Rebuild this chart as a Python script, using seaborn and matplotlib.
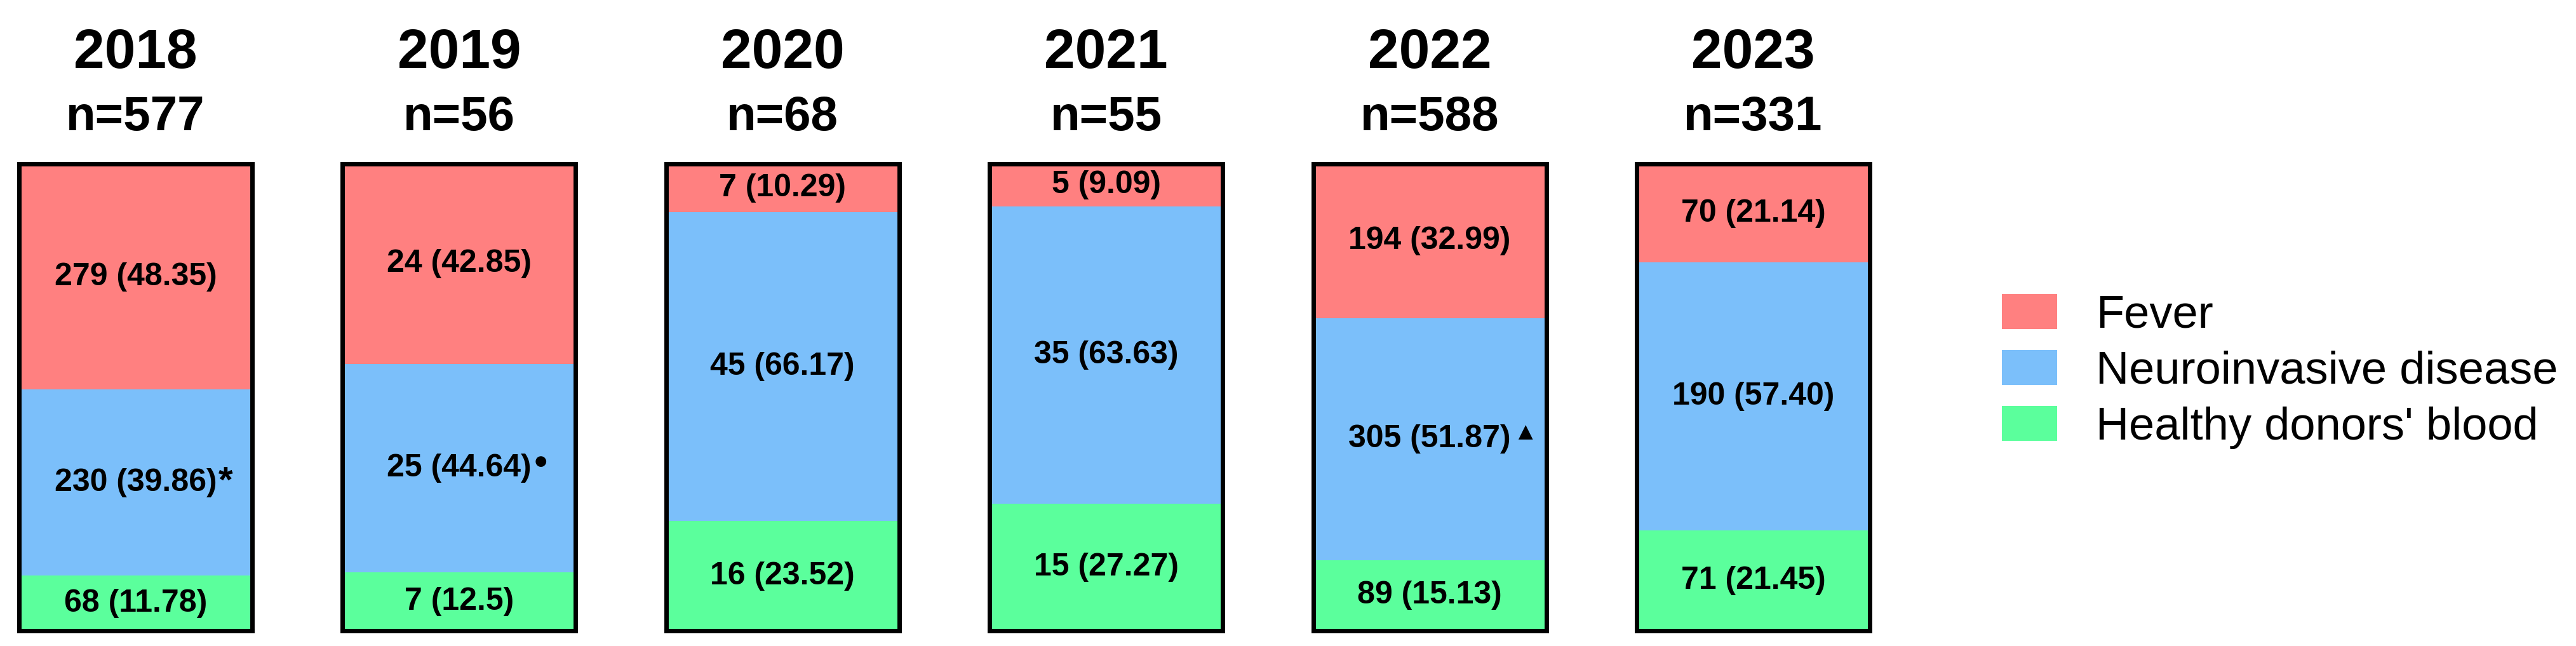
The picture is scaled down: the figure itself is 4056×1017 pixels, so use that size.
import pandas as pd
import matplotlib.pyplot as plt
from matplotlib.patches import Patch
import seaborn as sns

# data
years = ["2018", "2019", "2020", "2021", "2022", "2023"]
totals = [577, 56, 68, 55, 588, 331]
fever = [279, 24, 7, 5, 194, 70]
neuro = [230, 25, 45, 35, 305, 190]
healthy = [68, 7, 16, 15, 89, 71]
fever_pct = ["48.35", "42.85", "10.29", "9.09", "32.99", "21.14"]
neuro_pct = ["39.86", "44.64", "66.17", "63.63", "51.87", "57.40"]
healthy_pct = ["11.78", "12.5", "23.52", "27.27", "15.13", "21.45"]
neuro_marks = ["*", "●", "", "", "▲", ""]

groups = ["Fever", "Neuroinvasive disease", "Healthy donors' blood"]
colors = ["#FF8080", "#7BBFFA", "#5BFF9C"]

sns.set_style("white")
plt.rcParams['font.family'] = ['Liberation Sans', 'DejaVu Sans']
plt.rcParams['text.color'] = 'black'

df = pd.DataFrame({"year": years, "n": totals, "fever": fever,
                   "neuro": neuro, "healthy": healthy})
df["neuro_cum"] = df["neuro"] + df["healthy"]
df["top_cum"] = df["fever"] + df["neuro_cum"]

fig = plt.figure(figsize=(40.56, 10.17), dpi=100)
W, H = 4056, 1017

for i, row in df.iterrows():
    left = 30 + i * 509.4
    ax = fig.add_axes([left / W, 1 - 993 / H, 367 / W, (993 - 258) / H])
    one = df.iloc[[i]]
    # stacked bars by overlaying cumulative heights
    sns.barplot(data=one, x="year", y="top_cum", color=colors[0], width=1,
                saturation=1, linewidth=0, ax=ax)
    sns.barplot(data=one, x="year", y="neuro_cum", color=colors[1], width=1,
                saturation=1, linewidth=0, ax=ax)
    sns.barplot(data=one, x="year", y="healthy", color=colors[2], width=1,
                saturation=1, linewidth=0, ax=ax)
    ax.set_xlim(-0.5, 0.5)
    ax.set_ylim(0, row["top_cum"])
    ax.set_xticks([])
    ax.set_yticks([])
    ax.set_xlabel("")
    ax.set_ylabel("")
    for sp in ax.spines.values():
        sp.set_visible(True)
        sp.set_color("black")
        sp.set_linewidth(5)

    # segment labels
    segs = [
        (row["healthy"] / 2, f"{row['healthy']} ({healthy_pct[i]})"),
        (row["healthy"] + row["neuro"] / 2, f"{row['neuro']} ({neuro_pct[i]})"),
        (row["neuro_cum"] + row["fever"] / 2, f"{row['fever']} ({fever_pct[i]})"),
    ]
    for k, (yc, lab) in enumerate(segs):
        t = ax.text(0, yc, lab, ha="center", va="center", fontsize=36,
                    fontweight="bold", color="black")
        if k == 1 and neuro_marks[i]:
            m = neuro_marks[i]
            fs = 42 if m == "*" else 28
            ax.annotate(m, xy=(1, 1), xycoords=t, xytext=(2, 3),
                        textcoords="offset points", ha="left", va="top",
                        fontsize=fs, fontweight="bold", color="black",
                        annotation_clip=False)

    ax.text(0.5, 1.205, row["year"], transform=ax.transAxes, ha="center",
            va="baseline", fontsize=63, fontweight="bold", color="black")
    ax.text(0.5, 1.072, f"n={row['n']}", transform=ax.transAxes, ha="center",
            va="baseline", fontsize=55, fontweight="bold", color="black")

handles = [Patch(facecolor=c, edgecolor="none", label=g) for g, c in zip(groups, colors)]
leg = fig.legend(handles=handles, loc="center left", bbox_to_anchor=(3152 / W, 1 - 585 / H),
                 frameon=False, fontsize=52, handlelength=1.2, handleheight=0.8,
                 handletextpad=0.85, labelspacing=0.28, borderpad=0, borderaxespad=0)
for txt in leg.get_texts():
    txt.set_color("black")

fig.savefig("out.png", dpi=100)
